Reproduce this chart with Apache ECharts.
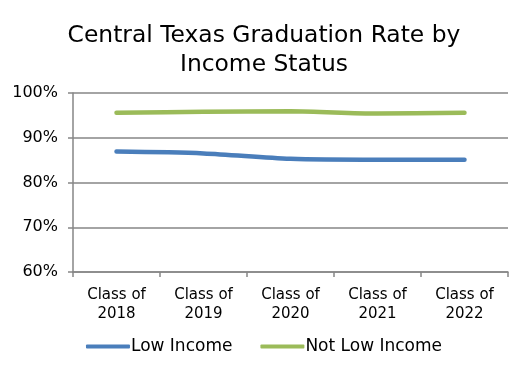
<!DOCTYPE html>
<html><head><meta charset="utf-8">
<script src="https://cdn.jsdelivr.net/npm/echarts@6/dist/echarts.min.js"></script>
<style>html,body{margin:0;padding:0;background:#fff}#c{width:528px;height:375px}</style>
</head><body><div id="c"></div>
<script>
const categories = ['Class of\n2018','Class of\n2019','Class of\n2020','Class of\n2021','Class of\n2022'];
const lowIncome = [86.9, 86.5, 85.3, 85.1, 85.1];
const notLowIncome = [95.6, 95.8, 95.9, 95.4, 95.6];
const yTicks = [60, 70, 80, 90, 100];
const FONT = 'DejaVu Sans';
const chart = echarts.init(document.getElementById('c'));
chart.setOption({
  animation: false,
  title: {
    text: 'Central Texas Graduation Rate by\nIncome Status',
    left: 'center', top: 16,
    textStyle: { fontFamily: FONT, fontSize: 23.4, fontWeight: 'normal', color: '#000', lineHeight: 29 }
  },
  legend: {
    bottom: 15, left: 'center', itemWidth: 44, itemHeight: 4, itemGap: 28,
    icon: 'roundRect',
    textStyle: { fontFamily: FONT, fontSize: 17, color: '#000', padding: [0,0,0,-4] },
    data: ['Low Income', 'Not Low Income']
  },
  grid: { left: 73, right: 20, top: 93, bottom: 103 },
  xAxis: {
    type: 'category', data: categories, boundaryGap: true,
    axisLine: { lineStyle: { color: '#868686', width: 1.5 } },
    axisTick: { show: true, length: 5, lineStyle: { color: '#868686', width: 1.5 } },
    axisLabel: { fontFamily: FONT, fontSize: 15, color: '#000', lineHeight: 19, margin: 14 }
  },
  yAxis: {
    type: 'value', min: 60, max: 100, interval: 10,
    axisLine: { show: true, lineStyle: { color: '#868686', width: 1.5 } },
    axisTick: { show: true, length: 5, lineStyle: { color: '#868686', width: 1.5 } },
    splitLine: { lineStyle: { color: '#868686', width: 1.5 } },
    axisLabel: {
      fontFamily: FONT, fontSize: 16, color: '#000', margin: 15,
      formatter: v => yTicks.includes(v) ? v + '%' : ''
    }
  },
  series: [
    { name: 'Low Income', type: 'line', data: lowIncome, smooth: 0.3, showSymbol: false,
      lineStyle: { color: '#4A7EBB', width: 4.5, cap: 'round' }, itemStyle: { color: '#4A7EBB' } },
    { name: 'Not Low Income', type: 'line', data: notLowIncome, smooth: 0.3, showSymbol: false,
      lineStyle: { color: '#9BBB59', width: 4.5, cap: 'round' }, itemStyle: { color: '#9BBB59' } }
  ]
});
</script></body></html>
